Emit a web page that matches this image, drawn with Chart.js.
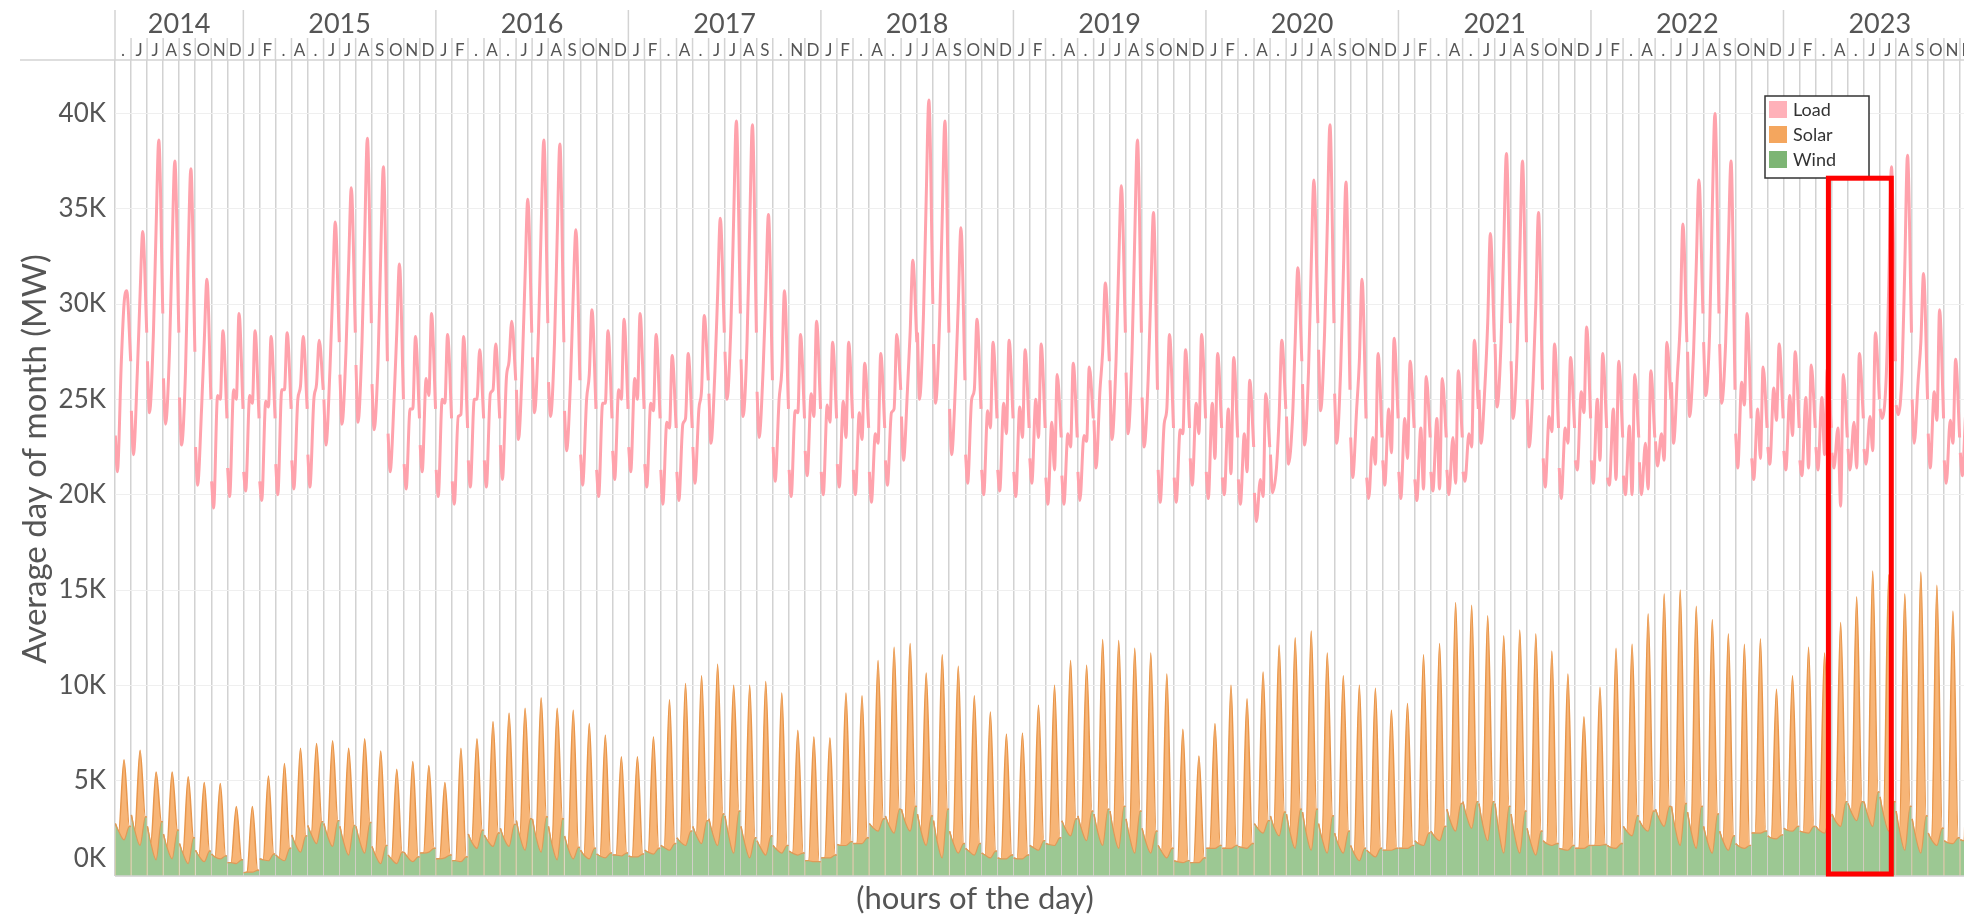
<!DOCTYPE html>
<html>
<head>
<meta charset="utf-8">
<script src="https://cdn.jsdelivr.net/npm/chart.js@4.4.1/dist/chart.umd.min.js"></script>
<style>
  html, body { margin: 0; padding: 0; background: #fff; overflow: hidden; width: 1964px; height: 917px; }
  #wrap { position: relative; width: 1976px; height: 917px; }
</style>
</head>
<body>
<div id="wrap"><canvas id="myChart" width="1976" height="917"></canvas></div>
<script>
// month index 0 = May 2014 ... 115 = Dec 2023, values in thousand MW
const years = ["2014", "2015", "2016", "2017", "2018", "2019", "2020", "2021", "2022", "2023"];
const monthLetters = [".JJASOND", "JF.A.JJASOND", "JF.A.JJASOND", "JF.A.JJAS.ND", "JF.A.JJASOND",
  "JF.A.JJASOND", "JF.A.JJASOND", "JF.A.JJASOND", "JF.A.JJASOND", "JF.A.JJASOND"];
const yTicks = [0, 5, 10, 15, 20, 25, 30, 35, 40];

const loadH0 = [23.1, 24.4, 27.0, 26.1, 25.1, 22.5, 20.7, 21.4, 21.2, 20.7,
  21.6, 21.8, 22.1, 25.0, 26.3, 26.8, 25.8, 23.2, 21.6, 22.6,
  21.3, 20.7, 21.8, 21.8, 22.6, 25.5, 27.2, 25.9, 24.4, 22.1,
  21.3, 22.3, 22.5, 21.6, 21.3, 21.2, 22.5, 25.3, 27.5, 27.1,
  25.4, 22.5, 21.3, 22.3, 21.2, 21.6, 21.3, 21.2, 21.8, 24.1,
  28.5, 27.9, 24.5, 22.1, 21.3, 21.3, 21.2, 21.9, 20.9, 21.0,
  21.2, 23.9, 26.0, 26.4, 25.1, 21.3, 20.9, 21.9, 21.2, 20.9,
  20.8, 20.1, 22.1, 24.1, 25.8, 27.6, 25.3, 23.0, 20.9, 21.8,
  21.2, 20.8, 21.2, 21.3, 21.2, 25.5, 27.9, 27.0, 25.0, 21.9,
  21.4, 21.8, 21.8, 20.9, 21.0, 21.7, 22.8, 25.9, 27.5, 28.0,
  27.9, 23.2, 21.9, 22.5, 22.3, 21.8, 22.5, 22.2, 22.4, 22.4,
  24.5, 24.7, 25.0, 23.2, 21.8, 22.2];
const loadH3 = [21.2, 22.1, 24.3, 23.7, 22.6, 20.5, 19.3, 19.9, 20.2, 19.7,
  20.0, 20.3, 20.4, 22.6, 23.7, 23.8, 23.4, 21.2, 20.3, 21.2,
  19.9, 19.5, 20.4, 20.4, 20.8, 22.9, 24.3, 24.1, 22.3, 20.5,
  19.9, 20.8, 21.2, 20.4, 19.5, 19.7, 20.6, 22.7, 25.0, 24.1,
  23.0, 20.7, 19.9, 21.0, 20.0, 20.4, 20.0, 19.6, 20.5, 21.8,
  25.0, 24.8, 22.1, 20.6, 20.0, 20.2, 19.9, 20.6, 19.5, 19.5,
  19.7, 21.4, 22.9, 23.2, 22.5, 19.6, 19.6, 20.5, 19.8, 20.0,
  19.5, 18.6, 20.1, 21.6, 22.6, 24.4, 22.7, 20.9, 19.8, 20.5,
  19.8, 19.7, 20.2, 20.0, 20.7, 22.7, 24.6, 24.0, 22.5, 20.4,
  19.8, 21.3, 20.6, 20.5, 20.0, 20.0, 21.5, 22.7, 24.1, 25.2,
  24.8, 21.4, 20.8, 21.6, 21.3, 21.0, 21.3, 21.4, 21.3, 21.6,
  24.0, 24.2, 22.7, 21.4, 20.6, 21.0];
const loadH9 = [27.0, 26.5, 28.5, 27.5, 26.5, 24.5, 25.2, 25.5, 25.2, 24.9,
  25.5, 25.0, 25.0, 26.5, 27.5, 28.0, 27.0, 25.0, 24.5, 26.1,
  25.0, 24.1, 25.0, 25.3, 26.1, 27.0, 28.5, 28.0, 26.0, 25.0,
  24.8, 25.5, 26.1, 24.8, 23.8, 23.7, 24.5, 26.5, 29.0, 28.0,
  26.5, 25.0, 24.4, 25.3, 24.7, 24.9, 24.3, 23.2, 24.3, 25.5,
  29.5, 29.0, 26.0, 25.0, 24.4, 24.8, 24.6, 25.0, 23.8, 23.2,
  23.1, 25.5, 27.0, 27.5, 26.0, 23.7, 23.4, 24.8, 24.8, 24.5,
  23.2, 20.8, 21.4, 24.0, 26.5, 28.5, 26.5, 24.5, 23.0, 24.5,
  24.0, 23.5, 24.0, 23.0, 23.2, 25.8, 28.0, 27.5, 26.0, 24.1,
  23.5, 25.4, 25.0, 24.5, 23.6, 22.7, 23.2, 26.4, 27.5, 28.5,
  28.0, 25.9, 24.5, 25.6, 25.2, 25.1, 25.1, 23.5, 23.8, 24.1,
  26.0, 26.5, 26.0, 25.4, 23.9, 24.5];
const loadH13 = [30.0, 30.5, 34.0, 33.0, 32.5, 28.0, 25.0, 25.0, 24.8, 24.6,
  25.5, 25.7, 25.8, 30.5, 32.0, 33.5, 32.5, 28.5, 24.5, 25.2,
  24.8, 24.2, 25.0, 25.5, 27.0, 31.5, 34.0, 33.5, 30.5, 26.3,
  24.8, 25.0, 25.0, 24.4, 23.5, 24.0, 25.5, 30.5, 34.5, 34.0,
  30.5, 26.5, 24.3, 24.1, 23.8, 23.0, 22.9, 22.7, 24.5, 28.5,
  35.5, 34.5, 30.0, 25.5, 23.5, 23.2, 23.0, 23.0, 21.3, 22.5,
  22.8, 27.5, 32.0, 33.5, 30.5, 24.5, 23.2, 23.2, 21.9, 21.1,
  21.2, 19.9, 24.1, 28.0, 32.0, 34.0, 31.5, 27.0, 21.6, 22.2,
  21.9, 20.3, 20.3, 20.6, 22.5, 29.0, 33.0, 32.5, 30.0, 23.3,
  22.7, 24.3, 21.8, 20.8, 20.0, 20.3, 21.8, 29.0, 32.0, 35.0,
  33.0, 24.7, 21.9, 23.9, 23.1, 21.4, 22.1, 19.4, 21.4, 22.3,
  31.0, 32.0, 28.0, 23.9, 22.7, 23.0];
const loadH17 = [30.7, 33.8, 38.6, 37.5, 37.1, 31.3, 28.6, 29.5, 28.6, 28.3,
  28.5, 28.3, 28.1, 34.3, 36.1, 38.7, 37.2, 32.1, 28.3, 29.5,
  28.4, 28.3, 27.6, 27.9, 29.1, 35.5, 38.6, 38.4, 33.9, 29.7,
  28.6, 29.2, 29.5, 28.4, 27.3, 27.4, 29.4, 34.5, 39.6, 39.4,
  34.7, 30.7, 28.4, 29.1, 28.0, 28.0, 26.9, 27.4, 28.4, 32.3,
  40.7, 39.6, 34.0, 29.2, 28.0, 28.1, 27.6, 27.9, 26.3, 26.9,
  26.7, 31.1, 36.2, 38.6, 34.8, 28.4, 27.6, 28.4, 27.4, 27.2,
  26.0, 25.3, 28.1, 31.9, 36.5, 39.4, 36.4, 31.3, 27.4, 28.2,
  27.0, 26.2, 26.1, 26.5, 28.1, 33.7, 37.9, 37.5, 34.8, 27.9,
  27.2, 28.8, 27.4, 27.0, 26.3, 26.5, 28.0, 34.2, 36.5, 40.0,
  37.5, 29.5, 26.7, 27.9, 27.5, 26.8, 26.6, 26.3, 27.4, 28.5,
  37.2, 37.8, 31.6, 29.7, 27.1, 28.0];
const loadH23 = [27.0, 28.5, 29.5, 28.5, 27.5, 25.0, 24.0, 24.5, 24.0, 24.0,
  24.5, 24.5, 25.5, 28.0, 28.5, 29.0, 27.0, 25.0, 24.0, 24.5,
  24.0, 23.5, 24.0, 24.0, 26.0, 28.5, 29.0, 28.0, 26.0, 24.5,
  24.0, 24.5, 24.5, 24.0, 23.5, 23.5, 26.0, 28.5, 29.5, 28.5,
  26.0, 24.5, 24.0, 24.5, 24.0, 24.0, 23.5, 23.5, 25.5, 28.0,
  30.0, 28.5, 26.0, 24.5, 24.0, 24.0, 23.5, 23.5, 23.0, 23.0,
  24.0, 27.0, 28.5, 28.5, 25.5, 23.5, 23.5, 24.0, 23.5, 23.0,
  22.5, 22.5, 24.5, 27.0, 29.0, 29.0, 25.5, 24.0, 23.0, 24.0,
  23.5, 23.0, 23.0, 23.0, 24.5, 28.0, 29.0, 28.0, 25.5, 23.5,
  23.5, 24.0, 23.5, 23.0, 23.0, 23.0, 25.0, 28.0, 29.5, 29.5,
  25.5, 24.0, 23.5, 24.0, 23.5, 23.5, 23.5, 23.0, 24.0, 25.0,
  27.0, 28.5, 25.0, 24.0, 23.0, 23.5];

const windH0 = [2.75, 3.2, 2.6, 2.2, 1.7, 1.35, 1.15, 0.7, 0.17, 0.9,
  1.1, 2.15, 2.65, 2.75, 2.6, 2.6, 1.55, 1.1, 1.25, 1.2,
  0.9, 0.8, 2.2, 2.15, 2.5, 2.9, 3.0, 2.6, 2.1, 1.35,
  1.15, 1.1, 1.05, 1.35, 1.6, 2.0, 2.6, 3.0, 3.15, 2.6,
  1.85, 1.6, 1.3, 0.8, 0.95, 1.65, 1.7, 2.75, 3.15, 3.5,
  3.25, 2.9, 2.35, 1.45, 1.2, 0.95, 0.95, 1.6, 1.7, 2.9,
  3.15, 3.25, 3.4, 3.0, 2.5, 1.6, 0.8, 0.7, 1.45, 1.45,
  1.55, 2.75, 3.15, 3.25, 3.35, 2.75, 2.25, 1.6, 1.35, 1.35,
  1.45, 1.85, 2.35, 3.5, 3.9, 3.8, 3.8, 3.25, 2.5, 1.85,
  1.45, 1.45, 1.6, 1.6, 2.6, 2.9, 3.5, 3.65, 3.35, 2.6,
  2.35, 1.7, 2.25, 2.1, 2.5, 2.35, 2.6, 3.25, 3.8, 3.9,
  4.15, 3.4, 3.0, 2.25, 1.85, 1.9];
const windH5 = [2.35, 2.4, 1.75, 1.55, 1.2, 1.05, 1.0, 0.7, 0.2, 0.85,
  0.95, 1.7, 2.2, 2.15, 1.85, 1.9, 1.1, 0.9, 1.0, 1.2,
  0.9, 0.8, 1.8, 1.85, 2.0, 2.1, 2.1, 1.7, 1.5, 1.1,
  1.05, 1.1, 1.0, 1.25, 1.5, 1.8, 2.15, 2.3, 2.2, 1.8,
  1.5, 1.4, 1.2, 0.8, 0.95, 1.6, 1.7, 2.55, 2.7, 2.9,
  2.4, 1.9, 1.8, 1.3, 1.1, 0.9, 0.9, 1.5, 1.65, 2.5,
  2.5, 2.4, 2.4, 2.1, 1.85, 1.3, 0.75, 0.7, 1.45, 1.45,
  1.5, 2.5, 2.6, 2.35, 2.35, 2.0, 1.7, 1.2, 1.2, 1.35,
  1.45, 1.7, 2.1, 2.9, 3.2, 2.8, 2.5, 2.2, 1.8, 1.7,
  1.4, 1.45, 1.6, 1.5, 2.35, 2.6, 3.05, 2.6, 2.4, 1.9,
  1.85, 1.55, 2.25, 2.0, 2.4, 2.3, 2.4, 2.9, 3.35, 3.25,
  3.25, 2.4, 2.1, 1.9, 1.75, 1.85];
const windH13 = [1.9, 1.6, 0.85, 0.9, 0.65, 0.75, 0.9, 0.65, 0.2, 0.8,
  0.8, 1.25, 1.7, 1.55, 1.1, 1.2, 0.65, 0.65, 0.75, 1.25,
  0.95, 0.75, 1.45, 1.55, 1.55, 1.35, 1.25, 0.85, 0.9, 0.9,
  0.95, 1.05, 1.0, 1.15, 1.35, 1.6, 1.7, 1.6, 1.2, 0.95,
  1.1, 1.2, 1.1, 0.75, 0.95, 1.6, 1.7, 2.35, 2.25, 2.35,
  1.6, 0.95, 1.2, 1.1, 0.95, 0.9, 0.9, 1.35, 1.6, 2.1,
  1.85, 1.6, 1.45, 1.2, 1.2, 0.95, 0.7, 0.7, 1.45, 1.45,
  1.45, 2.25, 2.1, 1.45, 1.35, 1.2, 1.2, 0.8, 1.0, 1.35,
  1.45, 1.6, 1.85, 2.35, 2.5, 1.85, 1.2, 1.2, 1.1, 1.6,
  1.35, 1.45, 1.6, 1.45, 2.1, 2.35, 2.6, 1.6, 1.45, 1.2,
  1.35, 1.45, 2.25, 1.95, 2.35, 2.25, 2.25, 2.6, 2.9, 2.6,
  2.35, 1.35, 1.2, 1.6, 1.7, 1.8];
const windEve = [2.6, 3.1, 2.85, 2.4, 2.0, 1.3, 1.05, 0.85, 0.3, 1.15,
  1.45, 2.1, 2.85, 2.9, 2.65, 2.8, 1.6, 1.25, 1.0, 1.45,
  1.1, 1.0, 2.4, 2.25, 2.7, 3.0, 3.1, 3.0, 1.5, 1.45,
  1.2, 1.2, 1.15, 1.45, 1.7, 2.35, 2.9, 3.25, 3.4, 2.0,
  2.1, 1.6, 1.2, 0.75, 1.1, 1.8, 2.0, 3.0, 3.5, 3.65,
  3.15, 3.5, 1.7, 1.7, 1.3, 1.1, 1.1, 1.85, 2.0, 3.0,
  3.4, 3.5, 3.65, 3.4, 2.35, 1.45, 0.8, 0.95, 1.6, 1.6,
  1.7, 2.9, 3.35, 3.5, 3.5, 3.15, 2.35, 1.45, 1.45, 1.45,
  1.6, 2.25, 2.6, 3.8, 3.9, 3.9, 3.65, 3.4, 2.35, 1.7,
  1.6, 1.6, 1.65, 1.7, 3.15, 3.4, 3.65, 3.8, 3.65, 3.25,
  2.1, 1.6, 2.35, 2.15, 2.6, 2.6, 3.15, 3.9, 3.9, 4.4,
  3.9, 3.65, 3.15, 2.5, 2.0, 2.0];
const solarH13 = [4.2, 5.0, 4.6, 4.55, 4.55, 4.15, 3.95, 3.0, 3.45, 4.45,
  5.1, 5.45, 5.25, 5.55, 5.6, 6.0, 5.9, 4.95, 5.25, 4.55,
  3.95, 5.95, 5.75, 6.55, 7.0, 7.45, 8.1, 7.95, 7.8, 7.1,
  6.45, 5.2, 5.25, 6.15, 7.9, 8.5, 8.8, 9.5, 8.8, 9.05,
  9.1, 8.4, 6.55, 6.55, 6.3, 8.0, 7.75, 8.95, 9.75, 9.85,
  9.05, 10.65, 9.8, 8.35, 7.65, 6.55, 6.6, 7.6, 8.4, 9.2,
  9.2, 10.8, 10.9, 10.75, 10.5, 9.65, 7.0, 5.6, 6.55, 8.55,
  7.85, 8.45, 10.0, 11.05, 11.5, 10.5, 9.3, 9.2, 8.85, 7.35,
  7.6, 10.0, 10.35, 12.0, 11.7, 11.8, 11.4, 11.7, 11.6, 10.2,
  9.25, 6.9, 8.3, 10.5, 10.05, 11.4, 12.2, 13.4, 12.7, 12.25,
  11.35, 10.7, 10.2, 7.85, 8.15, 9.75, 9.45, 10.7, 11.75, 13.4,
  13.45, 13.45, 14.75, 13.65, 12.2, 10.2];

// red highlight box (month index range, top value)
const boxMonths = [106.8, 110.72];
const boxTop = 36.6;

const loadHours = [0, 3, 9, 13, 17, 23];
const renHours = [0, 5, 13, 21, 23];

function hx(m, h) {
  return m + (h + 0.5) / 24;
}

const loadPts = [];
const windPts = [];
const solarPts = [];
for (let m = 0; m < loadH0.length; m++) {
  const lc = [loadH0, loadH3, loadH9, loadH13, loadH17, loadH23];
  loadHours.forEach((h, i) => loadPts.push({ x: hx(m, h), y: lc[i][m] }));
  loadPts.push({ x: m + 1, y: null });
  const wc = [windH0, windH5, windH13, windEve, windEve];
  renHours.forEach((h, i) => {
    windPts.push({ x: hx(m, h), y: wc[i][m] });
    solarPts.push({ x: hx(m, h), y: h === 13 ? solarH13[m] : 0 });
  });
  windPts.push({ x: m + 1, y: null });
  solarPts.push({ x: m + 1, y: null });
}

const legendItems = [
  { label: "Load", color: "#ffb1b9" },
  { label: "Solar", color: "#f4a65e" },
  { label: "Wind", color: "#7db574" }
];

const decorPlugin = {
  id: "decor",
  afterDraw(chart) {
    const ctx = chart.ctx;
    const xs = chart.scales.x;
    const ys = chart.scales.y;
    const area = chart.chartArea;
    ctx.save();

    // header: years and month letters
    ctx.strokeStyle = "#d3d3d3";
    ctx.lineWidth = 1.5;
    ctx.beginPath();
    ctx.moveTo(20, area.top);
    ctx.lineTo(area.right, area.top);
    ctx.moveTo(area.left, area.bottom);
    ctx.lineTo(area.right, area.bottom);
    ctx.stroke();

    ctx.fillStyle = "#555";
    ctx.textAlign = "center";
    ctx.textBaseline = "middle";
    let idx = 0;
    monthLetters.forEach((s, yi) => {
      const x1 = xs.getPixelForValue(idx);
      const x2 = xs.getPixelForValue(idx + s.length);
      ctx.beginPath();
      ctx.moveTo(x1, 10);
      ctx.lineTo(x1, area.top);
      ctx.stroke();
      ctx.font = "27px Lato";
      ctx.fillText(years[yi], (x1 + x2) / 2, 24);
      ctx.font = "17px Lato";
      for (let j = 0; j < s.length; j++) {
        if (j > 0) {
          const xm = xs.getPixelForValue(idx + j);
          ctx.beginPath();
          ctx.moveTo(xm, 38);
          ctx.lineTo(xm, area.top);
          ctx.stroke();
        }
        ctx.fillText(s[j], xs.getPixelForValue(idx + j + 0.5), 51);
      }
      idx += s.length;
    });

    // y tick labels
    ctx.font = "26px Lato";
    ctx.textAlign = "right";
    yTicks.forEach(v => {
      let y = ys.getPixelForValue(v);
      if (v === 0) y -= 17;
      ctx.fillText(v + "K", 106, y);
    });

    // axis titles
    ctx.font = "31px Lato";
    ctx.textAlign = "center";
    ctx.fillText("(hours of the day)", 975, 899);
    ctx.font = "33px Lato";
    ctx.save();
    ctx.translate(35, 459);
    ctx.rotate(-Math.PI / 2);
    ctx.fillText("Average day of month (MW)", 0, 0);
    ctx.restore();

    // legend
    ctx.fillStyle = "#fff";
    ctx.fillRect(1765, 96, 104, 82);
    ctx.strokeStyle = "#333";
    ctx.lineWidth = 1.5;
    ctx.strokeRect(1765, 96, 104, 82);
    ctx.font = "18px Lato";
    ctx.textAlign = "left";
    legendItems.forEach((it, i) => {
      const y = 101 + i * 25;
      ctx.fillStyle = it.color;
      ctx.fillRect(1769, y, 18, 17);
      ctx.fillStyle = "#333";
      ctx.fillText(it.label, 1793, y + 9);
    });

    // red highlight box
    const bx1 = xs.getPixelForValue(boxMonths[0]);
    const bx2 = xs.getPixelForValue(boxMonths[1]);
    const by1 = ys.getPixelForValue(boxTop);
    const by2 = ys.getPixelForValue(0) - 2;
    ctx.strokeStyle = "#ff0000";
    ctx.lineWidth = 5;
    ctx.strokeRect(bx1, by1, bx2 - bx1, by2 - by1);
    ctx.restore();
  }
};

function createChart() {
  const ctx = document.getElementById("myChart");
  // solar sits on top of wind in the stack; both are filled to zero and
  // wind is painted over the lower part
  const data = {
    datasets: [
      {
        label: "Load",
        data: loadPts,
        stack: "load",
        borderColor: "#ffa2ac",
        borderWidth: 3,
        fill: false,
        order: 0
      },
      {
        label: "Wind",
        data: windPts,
        stack: "ren",
        borderColor: "#de9a58",
        borderWidth: 1.2,
        backgroundColor: "#9cc893",
        fill: "origin",
        order: 1
      },
      {
        label: "Solar",
        data: solarPts,
        stack: "ren",
        borderColor: "#e8964b",
        borderWidth: 1.5,
        backgroundColor: "#f7b577",
        fill: "origin",
        order: 2
      }
    ]
  };

  const config = {
    type: "line",
    data,
    options: {
      responsive: false,
      animation: false,
      spanGaps: false,
      elements: {
        point: { radius: 0 },
        line: { cubicInterpolationMode: "monotone" }
      },
      layout: { padding: { left: 0, right: 0, top: 60, bottom: 41 } },
      scales: {
        x: {
          type: "linear",
          min: 0,
          max: 116,
          ticks: { display: false, stepSize: 1 },
          grid: { color: "#d2d2d2", lineWidth: 1.5, drawTicks: false },
          border: { display: false },
          afterFit(s) { s.height = 0; }
        },
        y: {
          stacked: true,
          min: 0,
          max: 42.8,
          ticks: { display: false, stepSize: 5, includeBounds: false },
          grid: { color: "#efefef", drawTicks: false },
          border: { display: false },
          afterFit(s) { s.width = 115; }
        }
      },
      plugins: {
        legend: { display: false },
        tooltip: { enabled: false }
      }
    },
    plugins: [decorPlugin]
  };

  new Chart(ctx, config);
}

document.addEventListener("DOMContentLoaded", createChart);
</script>
</body>
</html>
